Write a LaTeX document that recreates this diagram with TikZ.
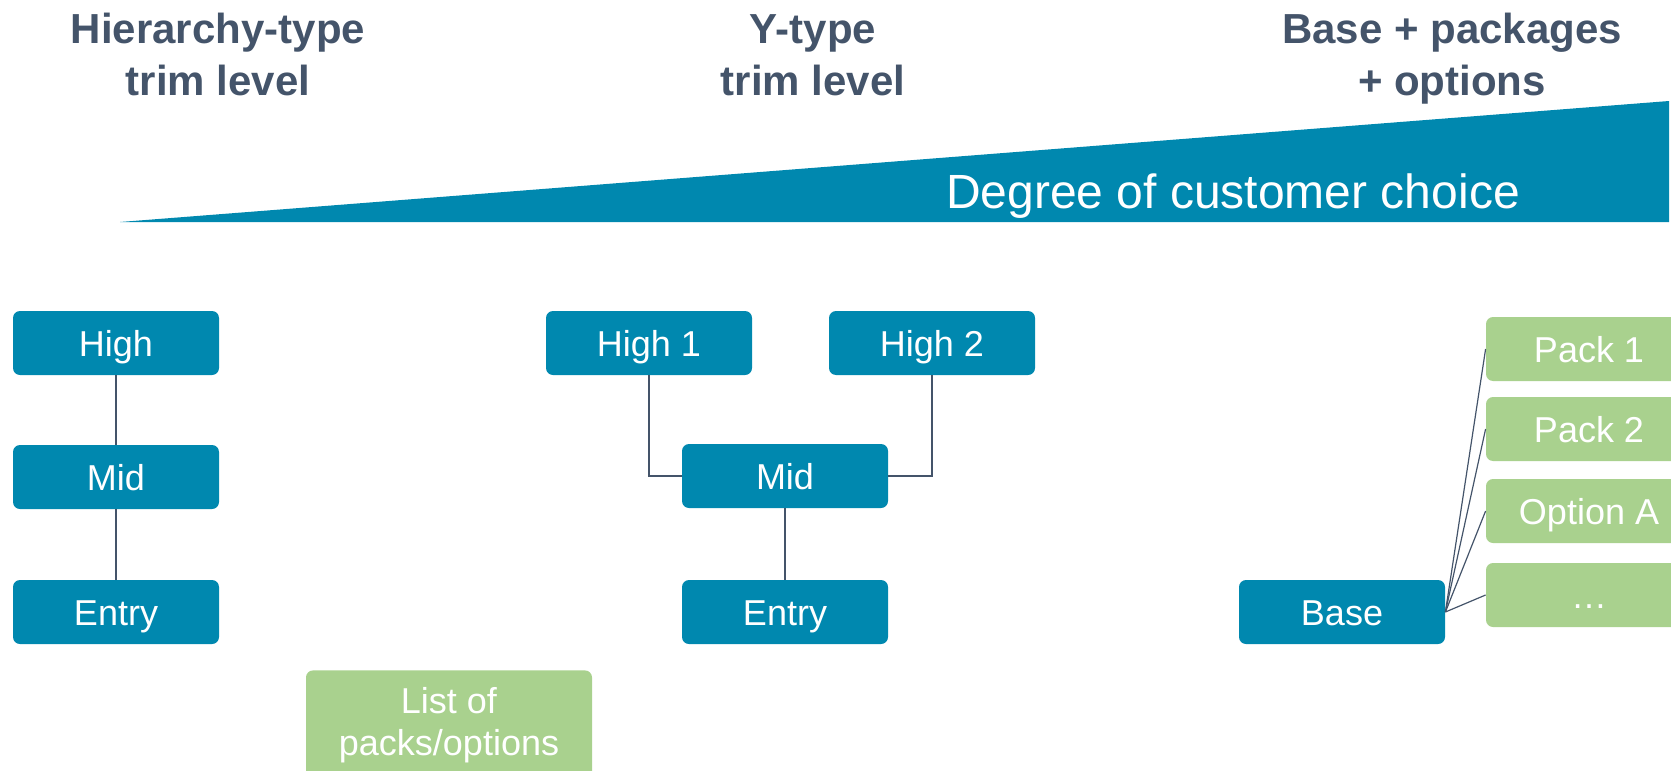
\documentclass[tikz,border=0pt]{standalone}
\usepackage{fontspec}
\setmainfont{Liberation Sans}
\definecolor{trimblue}{HTML}{0088AF}
\definecolor{packgreen}{HTML}{A9D18E}
\definecolor{slate}{HTML}{44546A}
\tikzset{
  trim/.style={fill=trimblue,text=white,rounded corners=3.5pt,minimum width=103pt,
    minimum height=32pt,inner sep=0pt,text height=13pt,text depth=0pt,
    font=\fontsize{18}{21}\selectfont},
  pack/.style={trim,fill=packgreen},
  head/.style={text=slate,align=center,anchor=base,font=\bfseries\fontsize{21}{26}\selectfont},
  link/.style={slate,line width=.6pt}
}
\begin{document}
\begin{tikzpicture}[x=.5pt,y=-.5pt]
      \useasboundingbox (0,0) rectangle (1671,771);
      % headings
      \node[head] (hhead) at (218,95) {Hierarchy-type\\trim level};
      \node[head] (yhead) at (813,95) {Y-type\\trim level};
      \node[head] (bhead) at (1452,95) {Base + packages\\+ options};
      % choice wedge
      \fill[trimblue] (120,222) -- (1669,222) -- (1669,101) -- cycle;
      \node[text=white,anchor=base,font=\fontsize{24}{28}\selectfont] (choice) at (1233,208) {Degree of customer choice};
      % hierarchy
      \node[trim] (hhigh) at (116,343) {High};
      \node[trim] (hmid) at (116,477) {Mid};
      \node[trim] (hentry) at (116,612) {Entry};
      \draw[link] (hhigh) -- (hmid) (hmid) -- (hentry);
      % Y-type
      \node[trim] (yhighA) at (649,343) {High 1};
      \node[trim] (yhighB) at (932,343) {High 2};
      \node[trim] (ymid) at (785,476) {Mid};
      \node[trim] (yentry) at (785,612) {Entry};
      \draw[link] (yhighA) |- (ymid);
      \draw[link] (yhighB) |- (ymid);
      \draw[link] (ymid) -- (yentry);
      \node[pack,anchor=north,text height=,text depth=,align=center,inner ysep=8.5pt,
        minimum width=143pt,minimum height=0pt] (list) at (449,670) {List of\\packs/options};
      % base + packs
      \node[trim] (base) at (1342,612) {Base};
      \node[pack] (pone) at (1589,349) {Pack 1};
      \node[pack] (ptwo) at (1589,429) {Pack 2};
      \node[pack] (popt) at (1589,511) {Option A};
      \node[pack] (pmore) at (1589,595) {…};
      \foreach \p in {pone,ptwo,popt,pmore}
        \draw[link] (base.east) -- (\p.west);
    \end{tikzpicture}
\end{document}
